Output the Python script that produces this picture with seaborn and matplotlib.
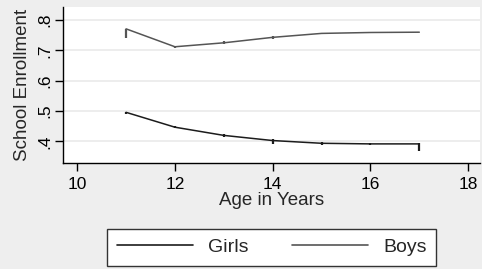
import numpy as np
import pandas as pd
import matplotlib.pyplot as plt
import seaborn as sns

# values
ages = [11, 12, 13, 14, 15, 16, 17]
girls = [0.496, 0.447, 0.420, 0.403, 0.394, 0.392, 0.392]
girls_lo = [0.490, 0.443, 0.415, 0.393, 0.389, 0.389, 0.367]
girls_hi = [0.498, 0.450, 0.423, 0.408, 0.397, 0.394, 0.394]
boys = [0.771, 0.712, 0.725, 0.743, 0.756, 0.759, 0.760]
boys_lo = [0.741, 0.708, 0.720, 0.739, 0.754, 0.757, 0.759]
boys_hi = [0.771, 0.714, 0.730, 0.746, 0.758, 0.761, 0.761]
yticks = [0.4, 0.5, 0.6, 0.7, 0.8]
ytick_labels = [".4", ".5", ".6", ".7", ".8"]
xticks = [10, 12, 14, 16, 18]

df = pd.DataFrame({
    "age": ages * 2,
    "enroll": girls + boys,
    "group": ["Girls"] * len(ages) + ["Boys"] * len(ages),
})

sns.set_style("white")
plt.rcParams['font.family'] = ['Liberation Sans', 'DejaVu Sans']

fig = plt.figure(figsize=(4.82, 2.69), dpi=100, facecolor="#eeeeee")
ax = fig.add_axes([0.1307, 0.394, 0.866, 0.580])
ax.set_facecolor("white")

colors = {"Girls": "#1c1c1c", "Boys": "#555555"}
sns.lineplot(data=df, x="age", y="enroll", hue="group", palette=colors,
             linewidth=1.1, ax=ax, legend=False)
ax.vlines(ages, girls_lo, girls_hi, color=colors["Girls"], linewidth=1.6)
ax.vlines(ages, boys_lo, boys_hi, color=colors["Boys"], linewidth=1.6)

ax.set_xlim(9.71, 18.25)
ax.set_ylim(0.329, 0.843)
ax.set_xticks(xticks)
ax.set_yticks(yticks)
ax.set_yticklabels(ytick_labels, rotation=90, va="center")
ax.grid(axis="y", color="#eaeaea", linewidth=1.2)
ax.set_axisbelow(True)
for s in ["top", "right"]:
    ax.spines[s].set_visible(False)
for s in ["left", "bottom"]:
    ax.spines[s].set_color("black")
    ax.spines[s].set_linewidth(1.0)
ax.tick_params(axis="both", direction="out", length=6, width=1.0,
               labelsize=12.5, colors="black", left=True, bottom=True)
ax.tick_params(axis="x", pad=4)
ax.tick_params(axis="y", pad=2)
ax.set_xlabel("Age in Years", fontsize=13.5, labelpad=0)
ax.set_ylabel("School Enrollment", fontsize=13.5, labelpad=4)

# title sits mostly above the picture, as in the reference
fig.text(0.552, 1 + 7 / 269, "by Age", fontsize=21, ha="center", va="baseline")

handles = [plt.Line2D([], [], color=colors["Girls"], linewidth=1.2),
           plt.Line2D([], [], color=colors["Boys"], linewidth=1.2)]
leg = fig.legend(handles, ["Girls", "Boys"], ncol=2, loc="center",
                 bbox_to_anchor=(0.222, 0.011, 0.683, 0.141), mode="expand",
                 fontsize=14, handlelength=3.9, handletextpad=0.77,
                 columnspacing=2.0, fancybox=False, framealpha=1,
                 borderaxespad=0, borderpad=0.5)
leg.get_frame().set_edgecolor("#333333")
leg.get_frame().set_linewidth(1.0)

plt.savefig("out.png", dpi=100, facecolor=fig.get_facecolor())
